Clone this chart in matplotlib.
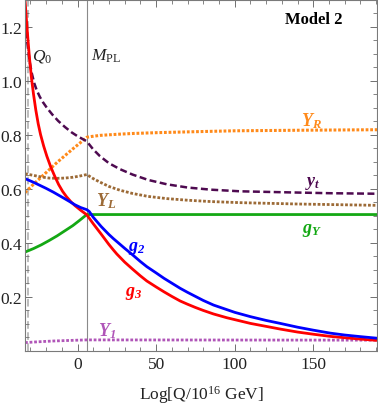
import matplotlib
matplotlib.use("Agg")
import matplotlib.pyplot as plt
from matplotlib.ticker import MultipleLocator

plt.rcParams['font.family'] = ['Liberation Serif', 'DejaVu Serif']
plt.rcParams['mathtext.fontset'] = 'custom'
plt.rcParams['mathtext.rm'] = 'Liberation Serif'
plt.rcParams['mathtext.it'] = 'Liberation Serif:italic'
plt.rcParams['mathtext.bf'] = 'Liberation Serif:italic:bold'
plt.rcParams['lines.scale_dashes'] = False

# ---- data ----
Q0 = -31.3
MPL = 5.9

g3_x = [-33.4, -32.5, -31.5, -30.5, -29.2, -28.0, -26.5, -25.0, -23.5, -21.5, -19.5, -17.0,
        -14.5, -12.0, -9.5, -7.0, -4.0, -1.6, 2.0, 5.9,
        10, 15, 20, 22.8, 25, 30, 35, 40, 44.1, 50, 55, 60, 65.3, 70, 75, 80, 86.5, 95,
        100, 110, 120, 129, 140, 150, 160.8, 170, 180, 191]
g3_y = [1.30, 1.225, 1.15, 1.08, 1.005, 0.95, 0.89, 0.84, 0.80, 0.757, 0.72, 0.68,
        0.646, 0.615, 0.59, 0.57, 0.55, 0.537, 0.52, 0.503,
        0.470, 0.432, 0.393, 0.373, 0.358, 0.328, 0.302, 0.277, 0.258, 0.236, 0.218, 0.201,
        0.184, 0.172, 0.160, 0.149, 0.136, 0.122, 0.115, 0.101, 0.090, 0.080, 0.069, 0.061,
        0.053, 0.048, 0.043, 0.038]

g2_x = [-33.4, -29, -25, -20, -15.4, -10, -5.0, -1.6, 2.0, 5.9,
        7.5, 10, 15, 20, 22.8, 25, 30, 35, 40, 44.1, 50, 55, 60, 65.3, 70, 75, 80, 86.5,
        95, 100, 110, 120, 129, 140, 150, 160.8, 170, 180, 191]
g2_y = [0.637, 0.626, 0.615, 0.601, 0.587, 0.569, 0.552, 0.540, 0.530, 0.522,
        0.515, 0.494, 0.46, 0.43, 0.415, 0.404, 0.379, 0.355, 0.33, 0.311, 0.288, 0.268,
        0.25, 0.231, 0.216, 0.201, 0.186, 0.169, 0.152, 0.142, 0.126, 0.112, 0.101, 0.087,
        0.076, 0.065, 0.058, 0.052, 0.046]

gY_x = [-33.4, -28, -23, -18, -13, -8, -3, 1, 5.9, 191.0]
gY_y = [0.365, 0.378, 0.392, 0.408, 0.425, 0.444, 0.463, 0.481, 0.504, 0.504]

yt_x = [-33.4, -32.5, -31.5, -30.3, -29.0, -27.5, -26.0, -24.0, -22.0, -19.6, -16.0, -12.2,
        -8.0, -3.7, 0.0, 5.9,
        10, 14.3, 20, 27, 35, 45, 56.8, 70, 85, 103.5, 135, 160, 191]
yt_y = [1.22, 1.17, 1.12, 1.065, 1.025, 0.99, 0.965, 0.94, 0.92, 0.90, 0.874, 0.85,
        0.828, 0.808, 0.794, 0.775,
        0.745, 0.72, 0.694, 0.672, 0.652, 0.632, 0.616, 0.604, 0.596, 0.59, 0.586, 0.583, 0.581]

YR_x = [-33.4, -28, -23, -18, -13, -8, -3, 1, 5.9,
        9, 14.3, 25, 35, 50, 70, 100, 140, 191]
YR_y = [0.585, 0.616, 0.643, 0.67, 0.697, 0.722, 0.747, 0.766, 0.79,
        0.793, 0.797, 0.801, 0.804, 0.807, 0.81, 0.814, 0.816, 0.818]

YL_x = [-33.4, -28, -23, -18, -13, -8, -3, 1, 5.9,
        10, 14.3, 20, 27, 35, 45, 56.8, 70, 85, 103.5, 140, 191]
YL_y = [0.655, 0.649, 0.643, 0.639, 0.638, 0.639, 0.642, 0.646, 0.652,
        0.637, 0.624, 0.608, 0.594, 0.582, 0.571, 0.563, 0.557, 0.552, 0.548, 0.543, 0.538]

Y1_x = [-33.4, -25, -15, -5, 5.9, 191.0]
Y1_y = [0.030, 0.033, 0.036, 0.038, 0.040, 0.039]

x_major = [0, 50, 100, 150]
y_major = [0.2, 0.4, 0.6, 0.8, 1.0, 1.2]

# ---- figure ----
fig = plt.figure(figsize=(3.78, 4.06), dpi=100)
ax = fig.add_axes([25/378, (406-351.7)/406, (377-25)/378, 351.2/406])

c_red = '#ff0000'
c_blue = '#0000ff'
c_green = '#14a814'
c_purple = '#4e0a50'
c_orange = '#ff8a1a'
c_brown = '#9c6a36'
c_mag = '#b055b8'

ax.axvline(MPL, color='#8a8a8a', lw=0.8, zorder=1)
ax.axvline(Q0, color='#b0b0b0', lw=1.2, dashes=(5.5, 2.5), zorder=1)

dot = dict(dashes=(2.0, 1.3), dash_capstyle='butt')
ax.plot(Y1_x, Y1_y, color=c_mag, lw=2.0, **dot)
ax.plot(YR_x, YR_y, color=c_orange, lw=2.2, **dot)
ax.plot(YL_x, YL_y, color=c_brown, lw=2.0, **dot)
ax.plot(yt_x, yt_y, color=c_purple, lw=1.8, dashes=(5.0, 2.5), dash_capstyle='butt')
ax.plot(gY_x, gY_y, color=c_green, lw=2.0)
ax.plot(g3_x, g3_y, color=c_red, lw=2.0)
ax.plot(g2_x, g2_y, color=c_blue, lw=2.0)

ax.set_xlim(-33.4, 190.5)
ax.set_ylim(0.0, 1.3)
ax.set_xticks(x_major)
ax.set_yticks(y_major)
ax.set_yticklabels([f'{v:.1f}' for v in y_major])
ax.xaxis.set_minor_locator(MultipleLocator(10))
ax.yaxis.set_minor_locator(MultipleLocator(0.05))
ax.tick_params(which='both', direction='in', top=True, right=True, color='#707070',
               labelsize=12.5, labelcolor='#222222')
ax.tick_params(which='major', length=5, width=0.7)
ax.tick_params(which='minor', length=3, width=0.6)
ax.tick_params(axis='y', which='major', pad=2)
for s in ax.spines.values():
    s.set_color('#7a7a7a')
    s.set_linewidth(0.8)

ax.set_xlabel(r'Log[Q/10$^{16}$ GeV]', fontsize=12.5, color='#222222', labelpad=8)

# labels
def lab(x, y, s, c, fs=13):
    ax.text(x, y, s, color=c, fontsize=fs, ha='center', va='center')

lab(149, 0.855, r'$\mathbf{Y_R}$', c_orange)
lab(149.5, 0.622, r'$\mathbf{y_t}$', c_purple)
lab(18, 0.558, r'$\mathbf{Y_L}$', c_brown)
lab(149.5, 0.450, r'$\mathbf{g_Y}$', c_green)
lab(38, 0.383, r'$\mathbf{g_2}$', c_blue)
lab(35.5, 0.214, r'$\mathbf{g_3}$', c_red)
lab(19, 0.075, r'$\mathbf{Y_1}$', c_mag)

ax.text(-28.8, 1.094, r'$Q_0$', fontsize=12.5, color='#222222', ha='left', va='center')
ax.text(8.5, 1.094, r'$M_{\mathrm{PL}}$', fontsize=12.5, color='#222222', ha='left', va='center')
ax.text(150, 1.228, 'Model 2', fontsize=12, fontweight='bold', color='black',
        ha='center', va='center')

fig.savefig('out.png', dpi=100)
